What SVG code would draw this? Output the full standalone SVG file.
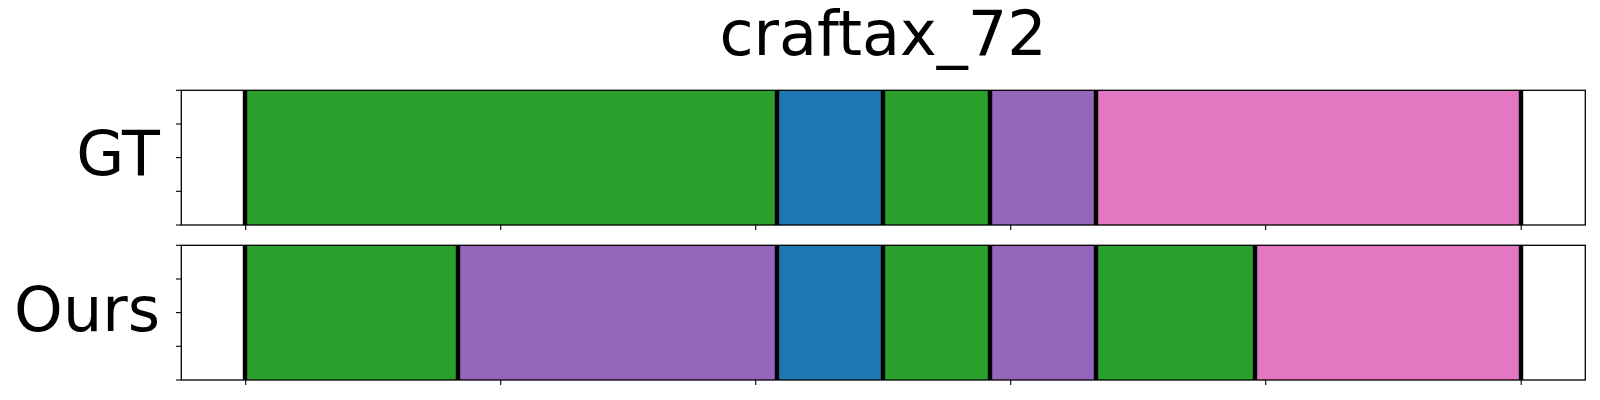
<svg xmlns="http://www.w3.org/2000/svg" width="1600" height="400" viewBox="0 0 1600 400">
<style>
.g{fill:#2ca02c}.b{fill:#1f77b4}.p{fill:#9467bd}.k{fill:#e377c2}
.bd{stroke:#000;stroke-width:4.4}
.sp{fill:none;stroke:#000;stroke-width:1.3}
.tk{stroke:#000;stroke-width:1.1}
text{font-family:"DejaVu Sans",sans-serif;fill:#000}
</style>
<rect width="1600" height="400" fill="#fff"/>
<text id="title" x="883" y="55" font-size="62" text-anchor="middle">craftax_72</text>
<g id="gt">
<rect class="g" x="245" y="90.3" width="532" height="134.7"/>
<rect class="b" x="777" y="90.3" width="106" height="134.7"/>
<rect class="g" x="883" y="90.3" width="107" height="134.7"/>
<rect class="p" x="990" y="90.3" width="106" height="134.7"/>
<rect class="k" x="1096" y="90.3" width="425" height="134.7"/>
<g class="bd">
<line x1="245" y1="90.3" x2="245" y2="225"/>
<line x1="777" y1="90.3" x2="777" y2="225"/>
<line x1="883" y1="90.3" x2="883" y2="225"/>
<line x1="990" y1="90.3" x2="990" y2="225"/>
<line x1="1096" y1="90.3" x2="1096" y2="225"/>
<line x1="1521" y1="90.3" x2="1521" y2="225"/>
</g>
<rect class="sp" x="181.3" y="90.3" width="1404" height="134.7"/>
<g class="tk">
<line x1="176" y1="90.3" x2="181.3" y2="90.3"/>
<line x1="176" y1="124" x2="181.3" y2="124"/>
<line x1="176" y1="157.6" x2="181.3" y2="157.6"/>
<line x1="176" y1="191.3" x2="181.3" y2="191.3"/>
<line x1="176" y1="225" x2="181.3" y2="225"/>
<line x1="245.7" y1="225" x2="245.7" y2="230"/>
<line x1="500.7" y1="225" x2="500.7" y2="230"/>
<line x1="755.7" y1="225" x2="755.7" y2="230"/>
<line x1="1010.7" y1="225" x2="1010.7" y2="230"/>
<line x1="1265.7" y1="225" x2="1265.7" y2="230"/>
<line x1="1521.2" y1="225" x2="1521.2" y2="230"/>
</g>
<text x="160" y="175" font-size="62" text-anchor="end">GT</text>
</g>
<g id="ours">
<rect class="g" x="245" y="245.3" width="213" height="134.7"/>
<rect class="p" x="458" y="245.3" width="319" height="134.7"/>
<rect class="b" x="777" y="245.3" width="106" height="134.7"/>
<rect class="g" x="883" y="245.3" width="107" height="134.7"/>
<rect class="p" x="990" y="245.3" width="106" height="134.7"/>
<rect class="g" x="1096" y="245.3" width="159" height="134.7"/>
<rect class="k" x="1255" y="245.3" width="266" height="134.7"/>
<g class="bd">
<line x1="245" y1="245.3" x2="245" y2="380"/>
<line x1="458" y1="245.3" x2="458" y2="380"/>
<line x1="777" y1="245.3" x2="777" y2="380"/>
<line x1="883" y1="245.3" x2="883" y2="380"/>
<line x1="990" y1="245.3" x2="990" y2="380"/>
<line x1="1096" y1="245.3" x2="1096" y2="380"/>
<line x1="1255" y1="245.3" x2="1255" y2="380"/>
<line x1="1521" y1="245.3" x2="1521" y2="380"/>
</g>
<rect class="sp" x="181.3" y="245.3" width="1404" height="134.7"/>
<g class="tk">
<line x1="176" y1="245.3" x2="181.3" y2="245.3"/>
<line x1="176" y1="279" x2="181.3" y2="279"/>
<line x1="176" y1="312.6" x2="181.3" y2="312.6"/>
<line x1="176" y1="346.3" x2="181.3" y2="346.3"/>
<line x1="176" y1="380" x2="181.3" y2="380"/>
<line x1="245.7" y1="380" x2="245.7" y2="385"/>
<line x1="500.7" y1="380" x2="500.7" y2="385"/>
<line x1="755.7" y1="380" x2="755.7" y2="385"/>
<line x1="1010.7" y1="380" x2="1010.7" y2="385"/>
<line x1="1265.7" y1="380" x2="1265.7" y2="385"/>
<line x1="1521.2" y1="380" x2="1521.2" y2="385"/>
</g>
<text x="160" y="331" font-size="62" text-anchor="end">Ours</text>
</g>
<g id="connectors"/>
</svg>
